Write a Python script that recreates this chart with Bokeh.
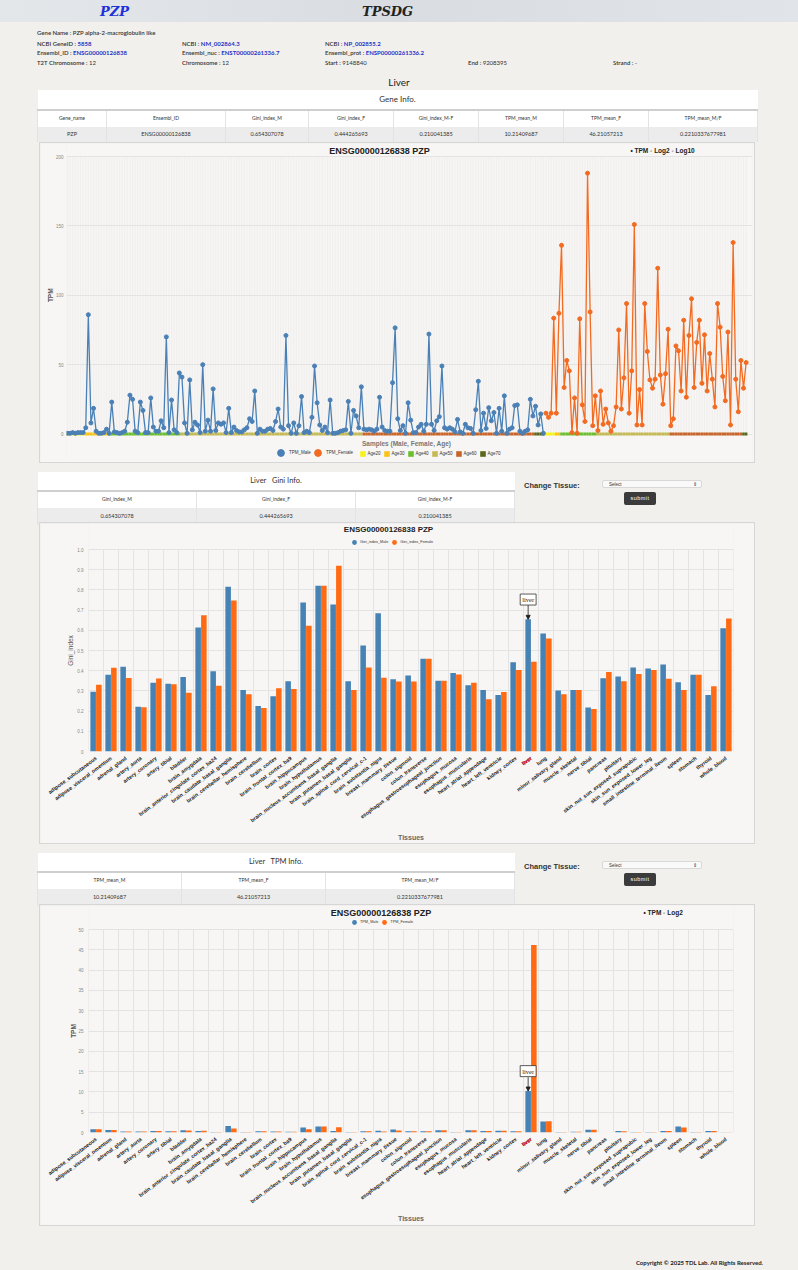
import math
from bokeh.plotting import figure
from bokeh.models import (ColumnDataSource, Div, Label, Arrow, NormalHead, Legend,
                          LegendItem, FactorRange, FixedTicker, PrintfTickFormatter)
from bokeh.layouts import column
from bokeh.transform import dodge
from bokeh.embed import file_html
from bokeh.resources import INLINE

# ---------------- data ----------------
gene_symbol = "PZP"
gene_name = "PZP alpha-2-macroglobulin like"
ncbi_gene_id = "5858"
ncbi_nuc = "NM_002864.3"
ncbi_prot = "NP_002855.2"
ensembl_id = "ENSG00000126838"
ensembl_nuc = "ENST00000261336.7"
ensembl_prot = "ENSP00000261336.2"
t2t_chrom = "12"
chrom = "12"
start_pos = "9148840"
end_pos = "9208395"
strand = "-"
tissue_sel = "Liver"
chart_title = "ENSG00000126838 PZP"

gene_info_cols = ["Gene_name", "Ensembl_ID", "Gini_index_M", "Gini_index_F",
                  "Gini_index_M-F", "TPM_mean_M", "TPM_mean_F", "TPM_mean_M/F"]
gene_info_vals = ["PZP", "ENSG00000126838", "0.654307078", "0.444265693",
                  "0.210041385", "10.21409687", "46.21057213", "0.2210337677981"]
gini_cols = ["Gini_index_M", "Gini_index_F", "Gini_index_M-F"]
gini_vals = ["0.654307078", "0.444265693", "0.210041385"]
tpm_cols = ["TPM_mean_M", "TPM_mean_F", "TPM_mean_M/F"]
tpm_vals = ["10.21409687", "46.21057213", "0.2210337677981"]

male_tpm = [0.5, 0.5, 1, 0.5, 1, 1, 1, 4.5, 86, 8, 18.5, 2, 0.5, 0.5, 1, 3.5, 0.5, 23, 1.5, 1,
            0.5, 1, 2, 8.5, 28, 25, 2, 1, 23, 17, 1, 1, 26, 5, 2, 2, 9.5, 4.5, 70, 1,
            24.5, 3, 1, 44, 41, 8, 0.5, 39, 3, 8.5, 6.5, 1, 50, 2, 10, 2, 32.5, 2.5, 8, 7,
            8, 1, 18.5, 1, 5, 2.5, 1.5, 1.5, 3, 4.5, 11, 9, 31, 0.5, 3.5, 2, 2, 3.5, 4, 2.5,
            9, 18, 5, 3.5, 71, 6, 0.5, 8, 0.5, 6, 27, 1, 2, 1, 12, 49, 22.5, 6.5, 2.5, 5,
            1, 24.5, 0.5, 0.5, 1, 2, 2.5, 3, 23.5, 0.5, 17, 13, 4.5, 34, 3.5, 3, 3.5, 3, 2, 3.5,
            26.5, 5, 2.5, 2, 2, 37, 76.5, 11, 2.5, 6, 0.5, 22.5, 10, 1, 1, 5, 7, 2, 7, 72,
            7, 2.5, 9.5, 12.5, 49, 4.5, 3.5, 4.5, 3.5, 1.5, 10.5, 1.5, 0.5, 7, 4.5, 4, 0.5, 17.5, 38, 2.5,
            15, 4, 19, 9.5, 15.5, 0.5, 18.5, 2, 27.5, 0.5, 3.5, 4.5, 20.5, 21, 2, 0.5, 2, 3, 25, 13,
            20, 6.5, 14.5, 0.5]
female_tpm = [15, 12, 15, 83.5, 15, 87, 136, 33.5, 53, 45.5, 1, 26, 0.5, 83, 21, 9, 188, 88, 6, 27.5,
              2.5, 31, 7, 18, 8, 2, 6, 19.5, 75, 18, 40.5, 94, 15, 45.5, 151, 6.5, 32, 6.5, 94, 59.5,
              39, 33, 39.5, 119.5, 42.5, 21.5, 43.5, 75.5, 6, 11, 63.5, 60, 31, 82, 26.5, 71, 97.5, 33.5, 66, 82,
              36.5, 71.5, 31, 58, 39.5, 19.5, 94, 77, 41.5, 24, 73.5, 6.5, 138, 39.5, 16, 53, 33, 51.5]
age_groups = ["Age20", "Age30", "Age40", "Age50", "Age60", "Age70"]
age_colors = ["#f7f21a", "#fcc419", "#6cbf2f", "#c4b955", "#c8642a", "#5b671d"]
male_age_runs = [7, 9, 28, 70, 66, 4]
female_age_runs = [4, 2, 14, 28, 28, 2]

tissues = ["adipose_subcutaneous", "adipose_visceral_omentum", "adrenal_gland", "artery_aorta",
           "artery_coronary", "artery_tibial", "bladder", "brain_amygdala",
           "brain_anterior_cingulate_cortex_ba24", "brain_caudate_basal_ganglia",
           "brain_cerebellar_hemisphere", "brain_cerebellum", "brain_cortex",
           "brain_frontal_cortex_ba9", "brain_hippocampus", "brain_hypothalamus",
           "brain_nucleus_accumbens_basal_ganglia", "brain_putamen_basal_ganglia",
           "brain_spinal_cord_cervical_c-1", "brain_substantia_nigra", "breast_mammary_tissue",
           "colon_sigmoid", "colon_transverse", "esophagus_gastroesophageal_junction",
           "esophagus_mucosa", "esophagus_muscularis", "heart_atrial_appendage",
           "heart_left_ventricle", "kidney_cortex", "liver", "lung", "minor_salivary_gland",
           "muscle_skeletal", "nerve_tibial", "pancreas", "pituitary",
           "skin_not_sun_exposed_suprapubic", "skin_sun_exposed_lower_leg",
           "small_intestine_terminal_ileum", "spleen", "stomach", "thyroid", "whole_blood"]
gini_male = [0.296, 0.38, 0.42, 0.222, 0.34, 0.336, 0.369, 0.614, 0.397, 0.815, 0.305, 0.225,
             0.273, 0.348, 0.738, 0.82, 0.728, 0.348, 0.525, 0.685, 0.358, 0.376, 0.459, 0.35,
             0.388, 0.328, 0.305, 0.28, 0.442, 0.654307078, 0.584, 0.302, 0.304, 0.218, 0.363, 0.371,
             0.416, 0.411, 0.431, 0.343, 0.38, 0.28, 0.61]
gini_female = [0.33, 0.415, 0.364, 0.219, 0.361, 0.333, 0.291, 0.674, 0.325, 0.747, 0.283, 0.215,
               0.313, 0.31, 0.623, 0.821, 0.919, 0.304, 0.416, 0.365, 0.347, 0.347, 0.459, 0.35,
               0.381, 0.34, 0.259, 0.294, 0.403, 0.444265693, 0.559, 0.284, 0.304, 0.21, 0.394, 0.348,
               0.384, 0.404, 0.36, 0.305, 0.38, 0.323, 0.658]
tpm_mean_male = [0.8, 0.6, 0.25, 0.25, 0.4, 0.3, 0.55, 0.4, 0.15, 1.6, 0.1, 0.3, 0.25, 0.2, 1.25,
                 1.5, 0.35, 0.15, 0.3, 0.45, 0.75, 0.3, 0.3, 0.55, 0.1, 0.55, 0.35, 0.45, 0.3,
                 10.21409687, 2.7, 0.15, 0.2, 0.65, 0.02, 0.35, 0.1, 0.1, 0.35, 1.5, 0.15, 0.4, 0.05]
tpm_mean_female = [0.8, 0.6, 0.25, 0.25, 0.4, 0.3, 0.5, 0.45, 0.1, 1.0, 0.1, 0.3, 0.25, 0.2, 0.8,
                   1.5, 1.3, 0.15, 0.3, 0.25, 0.5, 0.3, 0.3, 0.55, 0.1, 0.55, 0.35, 0.45, 0.3,
                   46.21057213, 2.75, 0.15, 0.2, 0.65, 0.02, 0.3, 0.1, 0.1, 0.35, 1.25, 0.15, 0.4, 0.05]

line_yticks = [0, 50, 100, 150, 200]
gini_yticks = [0, 0.1, 0.2, 0.3, 0.4, 0.5, 0.6, 0.7, 0.8, 0.9, 1.0]
tpm_yticks = [0, 5, 10, 15, 20, 25, 30, 35, 40, 45, 50]
highlight = "liver"

# ---------------- style ----------------
BLUE = "#4682B4"
ORANGE = "#FF6A13"
LBLUE = "#4A80B6"
LORANGE = "#F26B21"
PAGE_BG = "#f2f0ed"
PANEL_BG = "#f7f6f4"
GRID = "#e3e3e3"
CF = "Liberation Sans"
PF = "Lato, sans-serif"
NB = "\u00a0"


def pos(left, top, html, style=""):
    return (f'<div style="position:absolute;left:{left}px;top:{top}px;white-space:nowrap;'
            f'line-height:8px;{style}">{html}</div>')


def kv(label, val, blue=True):
    vs = "color:#2630c8;font-weight:700;" if blue else "color:#333;"
    return f'<span style="font-weight:600;color:#333">{label} : </span><span style="{vs}">{val}</span>'


def table(title, cols, vals, widths, left, top, title_h, head_h, row_h, title_fs):
    tw = sum(widths)
    td = "border-left:1px solid #e3e3e3;border-right:1px solid #e3e3e3;padding:0;text-align:center;"
    colgroup = "<colgroup>" + "".join(f'<col style="width:{w}px">' for w in widths) + "</colgroup>"
    head = "".join(f'<td style="{td}height:{head_h}px;font-size:5px;">{c}</td>' for c in cols)
    body = "".join(f'<td style="{td}height:{row_h}px;font-size:5.5px;">{v}</td>' for v in vals)
    return (f'<table style="position:absolute;left:{left}px;top:{top}px;width:{tw}px;'
            f'border-collapse:collapse;table-layout:fixed;color:#333;font-family:{PF};">'
            + colgroup +
            f'<tr><td colspan="{len(cols)}" style="background:#fff;height:{title_h}px;text-align:center;'
            f'font-size:{title_fs}px;border-bottom:2px solid #cfcfcf;padding:0;">{title}</td></tr>'
            f'<tr style="background:#fff">{head}</tr>'
            f'<tr style="background:#ececec">{body}</tr></table>')


def change_tissue():
    return (pos(524, 19, "Change Tissue:", "font-size:7.5px;font-weight:700;color:#333;line-height:9px;") +
            '<div style="position:absolute;left:602px;top:18px;width:100px;height:8px;background:#f9f9f9;'
            'border:1px solid #d8d8d8;border-radius:2px;font-size:4.5px;line-height:8px;color:#333;">'
            '<span style="margin-left:6px">Select</span>'
            '<span style="position:absolute;right:4px;top:0;">&#8661;</span></div>'
            '<div style="position:absolute;left:624px;top:30px;width:32px;height:13px;background:#3b3b3b;'
            'color:#fff;border-radius:2px;font-size:5.5px;line-height:13px;text-align:center;'
            'letter-spacing:0.5px;">submit</div>')


# ---------------- header div ----------------
hdr = (f'<div style="position:relative;width:798px;height:143px;font-family:{PF};font-size:6px;color:#333;">'
       '<div style="position:absolute;left:0;top:0;width:798px;height:22px;'
       'background:linear-gradient(90deg,#e4e7ea,#d9dde2 50%,#e1e4e8);"></div>'
       f'<div style="position:absolute;left:100px;top:4px;font:italic bold 13px \'DejaVu Serif\';color:#2030d8;">{gene_symbol}</div>'
       '<div style="position:absolute;left:362px;top:4px;font:italic bold 13px \'DejaVu Serif\';color:#222;">TPSDG</div>'
       + pos(37, 29, f'<span style="font-weight:600">Gene Name : {gene_name}</span>')
       + pos(37, 40, kv("NCBI GeneID", ncbi_gene_id)) + pos(182, 40, kv("NCBI", ncbi_nuc))
       + pos(325, 40, kv("NCBI", ncbi_prot))
       + pos(37, 49, kv("Ensembl_ID", ensembl_id)) + pos(182, 49, kv("Ensembl_nuc", ensembl_nuc))
       + pos(325, 49, kv("Ensembl_prot", ensembl_prot))
       + pos(37, 59, kv("T2T Chromosome", t2t_chrom, False)) + pos(182, 59, kv("Chromosome", chrom, False))
       + pos(325, 59, kv("Start", start_pos, False)) + pos(468, 59, kv("End", end_pos, False))
       + pos(613, 59, kv("Strand", strand, False))
       + f'<div style="position:absolute;left:0;top:76px;width:798px;text-align:center;font-size:10px;'
         f'line-height:12px;color:#222;">{tissue_sel}</div>'
       + table("Gene Info.", gene_info_cols, gene_info_vals, [69, 119, 83, 85, 85, 85, 85, 109],
               37, 90, 20, 17, 15, 8)
       + '</div>')
div_a = Div(text=hdr, width=798, height=143, margin=0)

div_b = Div(text=('<div style="position:relative;width:798px;height:61px;">'
                  + table(f"{tissue_sel}&nbsp;&nbsp;&nbsp;Gini Info.", gini_cols, gini_vals,
                          [159, 159, 159], 37, 10, 19, 17, 17, 7.5)
                  + change_tissue() + '</div>'), width=798, height=61, margin=0)
div_c = Div(text=('<div style="position:relative;width:798px;height:62px;">'
                  + table(f"{tissue_sel}&nbsp;&nbsp;&nbsp;TPM Info.", tpm_cols, tpm_vals,
                          [144, 144, 189], 37, 10, 19, 17, 17, 7.5)
                  + change_tissue() + '</div>'), width=798, height=62, margin=0)
div_d = Div(text=(f'<div style="position:relative;width:798px;height:45px;font-family:{PF};">'
                  '<div style="position:absolute;right:35px;top:34px;font-size:6px;font-weight:700;'
                  'color:#222;white-space:nowrap;">Copyright &copy; 2025 TDL Lab. All Rights Reserved.</div></div>'),
            width=798, height=45, margin=0)


def text_label(x, y, text, size, color="#222", bold=True, align="center", font=CF, angle=0.0):
    return Label(x=x, y=y, text=text, text_align=align, text_baseline="middle", text_font=font,
                 text_font_size=size, text_font_style="bold" if bold else "normal",
                 text_color=color, angle=angle)


def style_yaxis(ay, ticks, standoff):
    ay.ticker = FixedTicker(ticks=ticks)
    ay.major_label_text_font_size = "4.5px"
    ay.major_label_text_color = "#888"
    ay.major_tick_line_color = None
    ay.minor_tick_line_color = None
    ay.major_tick_out = 0
    ay.minor_tick_out = 0
    ay.axis_line_color = None
    ay.major_label_standoff = standoff


def make_legend(items, loc, glyph, font_size, standoff, spacing, label_width=0):
    return Legend(items=items, location=loc, orientation="horizontal", glyph_width=glyph,
                  glyph_height=glyph, label_text_font=CF, label_text_font_size=font_size,
                  label_text_color="#333", label_height=glyph, label_width=label_width,
                  label_standoff=standoff, spacing=spacing, padding=0, margin=0,
                  border_line_color=None, background_fill_alpha=0)


# ---------------- line chart ----------------
n_m, n_f = len(male_tpm), len(female_tpm)
x_m = list(range(n_m))
x_f = list(range(n_m, n_m + n_f))
x_all = x_m + x_f
L_PPU = 1.3875                      # px per TPM unit
L_H = 319
L_ZERO = 290.5                      # px from panel top to TPM = 0
y0_line = -(L_H - L_ZERO) / L_PPU
y1_line = y0_line + L_H / L_PPU

p1 = figure(width=714, height=L_H, title=None, output_backend="svg", toolbar_location=None,
            x_range=(-0.4, n_m + n_f + 1.45), y_range=(y0_line, y1_line), frame_align=False,
            min_border_left=26, min_border_right=2, min_border_top=0, min_border_bottom=0,
            background_fill_color=PANEL_BG, border_fill_color=PANEL_BG, outline_line_color=None,
            margin=(0, 0, 0, 40), styles={"outline": "1px solid #d6d6d6"})
p1.xaxis.visible = False
p1.xgrid.visible = False
p1.segment(x0=x_all, y0=[0] * len(x_all), x1=x_all, y1=[max(line_yticks)] * len(x_all),
           line_color="#e6e6e6", line_alpha=0.45, line_width=1)
p1.ygrid.ticker = FixedTicker(ticks=line_yticks)
p1.ygrid.grid_line_color = GRID

# age band under the samples
bx, bc, first_idx = [], [], {}
i = 0
for runs in (male_age_runs, female_age_runs):
    for g, n in enumerate(runs):
        for _ in range(n):
            first_idx.setdefault(g, i)
            bx.append(i)
            bc.append(age_colors[g])
            i += 1
band = p1.rect(x=bx, y=[0] * len(bx), width=1, height=3, height_units="screen",
               fill_color=bc, line_color=None)

p1.line(x_m, male_tpm, line_color=LBLUE, line_width=1.3)
sm = p1.scatter(x_m, male_tpm, size=4, fill_color=LBLUE, line_color=LBLUE)
p1.line(x_f, female_tpm, line_color=LORANGE, line_width=1.3)
sf = p1.scatter(x_f, female_tpm, size=4, fill_color=LORANGE, line_color=LORANGE)

style_yaxis(p1.yaxis[0], line_yticks, 3)

p1.add_layout(text_label(-6.5, 100, "TPM", "6.5px", "#555", angle=math.pi / 2), "left")
p1.add_layout(text_label(120, 204.3, chart_title, "9px"))
p1.add_layout(text_label(216.5, 204.3, "\u2022 TPM  \u25e6 Log2  \u25e6 Log10", "6.5px", align="left"))
p1.add_layout(text_label(130.4, -6.85, "Samples (Male, Female, Age)", "6.5px", "#777"))

p1.add_layout(make_legend([LegendItem(label="TPM_Male", renderers=[sm], index=0)],
                          (206, 1), 17, "4.5px", 0, 0))
p1.add_layout(make_legend([LegendItem(label="TPM_Female", renderers=[sf], index=0)],
                          (243, 1), 17, "4.5px", 0, 0))
p1.add_layout(make_legend([LegendItem(label=g, renderers=[band], index=first_idx[k])
                           for k, g in enumerate(age_groups)],
                          (292.5, 5), 7, "4.5px", 2, 2, label_width=0))


# ---------------- bar charts ----------------
def bar_chart(m_vals, f_vals, y_max, y_ticks, fmt, y_title, y_title_x, y_title_bold, leg_labels,
              top_gap, bottom_border, title_size, title_x, title_px, radio_text, note_dy, arrow_dy):
    H = 320
    frame_h = H - bottom_border
    ppu = (frame_h - top_gap) / y_max
    y_end = frame_h / ppu
    src = ColumnDataSource(dict(tissue=tissues, male=m_vals, female=f_vals))
    p = figure(width=714, height=H, title=None, output_backend="svg", toolbar_location=None,
               x_range=FactorRange(*tissues, range_padding=0), y_range=(0, y_end),
               frame_align=False,
               min_border_left=48, min_border_right=21, min_border_top=0,
               min_border_bottom=bottom_border, background_fill_color=PANEL_BG,
               border_fill_color=PANEL_BG, outline_line_color=None,
               margin=(0, 0, 0, 40), styles={"outline": "1px solid #d6d6d6"})
    bounds = list(range(len(tissues) + 1))
    p.xgrid.visible = False
    p.segment(x0=bounds, y0=[0] * len(bounds), x1=bounds, y1=[y_max] * len(bounds),
              line_color=GRID, line_width=1)
    p.ygrid.ticker = FixedTicker(ticks=y_ticks)
    p.ygrid.grid_line_color = GRID

    xm = dodge("tissue", -0.19, range=p.x_range)
    xf = dodge("tissue", 0.19, range=p.x_range)
    p.vbar(x=xm, top="male", width=0.37, source=src, fill_color=BLUE, line_color=None)
    p.vbar(x=xf, top="female", width=0.37, source=src, fill_color=ORANGE, line_color=None)

    ax = p.xaxis[0]
    ax.major_label_orientation = 0.64
    ax.major_label_text_font = CF
    ax.major_label_text_font_size = "5.3px"
    ax.major_label_text_font_style = "bold"
    ax.major_label_text_color = "#222"
    ax.major_tick_out = 0
    ax.minor_tick_out = 0
    ax.major_label_standoff = 6
    ax.major_tick_line_color = None
    ax.axis_line_color = None
    ax.major_label_overrides = {highlight: NB}
    ax.axis_label = "Tissues"
    ax.axis_label_text_font = CF
    ax.axis_label_text_font_size = "7px"
    ax.axis_label_text_font_style = "bold"
    ax.axis_label_text_color = "#666"
    ax.axis_label_standoff = 5

    ay = p.yaxis[0]
    style_yaxis(ay, y_ticks, 5)
    ay.formatter = PrintfTickFormatter(format=fmt)
    ay.major_label_overrides = {0: "0"}

    p.add_layout(text_label(y_title_x, y_max / 2, y_title, "6.5px", "#555", bold=y_title_bold,
                            angle=math.pi / 2), "left")
    hi = tissues.index(highlight)
    p.add_layout(Label(x=hi + 0.5, y=-6 / ppu, text=highlight, angle=0.64, text_align="right",
                       text_baseline="middle", text_font=CF, text_font_size="5.3px",
                       text_font_style="bold", text_color="#e8121b"), "left")
    mx = hi + 0.5 - 0.19
    p.add_layout(Arrow(end=NormalHead(size=4, fill_color="#222", line_color="#222"),
                       x_start=mx, y_start=m_vals[hi] + arrow_dy, x_end=mx, y_end=m_vals[hi],
                       line_color="#222", line_width=0.8))
    p.add_layout(Label(x=mx, y=m_vals[hi] + note_dy, text=highlight, text_align="center",
                       text_baseline="middle", text_font="Liberation Serif", text_font_size="6.5px",
                       text_color="#222", background_fill_color="white", border_line_color="#333",
                       border_line_width=0.8, padding=2))

    title_y = y_end - title_px / ppu
    p.add_layout(text_label(title_x, title_y, chart_title, title_size))
    if radio_text:
        p.add_layout(text_label(37.0, title_y, radio_text, "6.5px", align="left"))
    rm = p.scatter(x=xm, y="male", source=src, size=0, marker="circle",
                   fill_color=BLUE, line_color=None)
    rf = p.scatter(x=xf, y="female", source=src, size=0, marker="circle",
                   fill_color=ORANGE, line_color=None)
    p.add_layout(make_legend([LegendItem(label=leg_labels[0], renderers=[rm], index=0),
                              LegendItem(label=leg_labels[1], renderers=[rf], index=0)],
                             (260, frame_h - top_gap + 1), 12, "3.8px", 0, 0))
    return p


p2 = bar_chart(gini_male, gini_female, 1.0, gini_yticks, "%.1f", "Gini_index", -1.17, False,
               ["Gini_index_Male", "Gini_index_Female"], 26, 92, "8px", 20.0, 6, None,
               0.098, 0.075)
p3 = bar_chart(tpm_mean_male, tpm_mean_female, 50, tpm_yticks, "%d", "TPM", -0.97, True,
               ["TPM_Male", "TPM_Female"], 24, 93, "9px", 19.5, 7, "\u2022 TPM  \u25e6 Log2",
               4.9, 3.4)

root = column(div_a, p1, div_b, p2, div_c, p3, div_d, spacing=0, width=798, height=1270,
              styles={"background-color": PAGE_BG})

open("out.html", "w").write(file_html(root, INLINE))
